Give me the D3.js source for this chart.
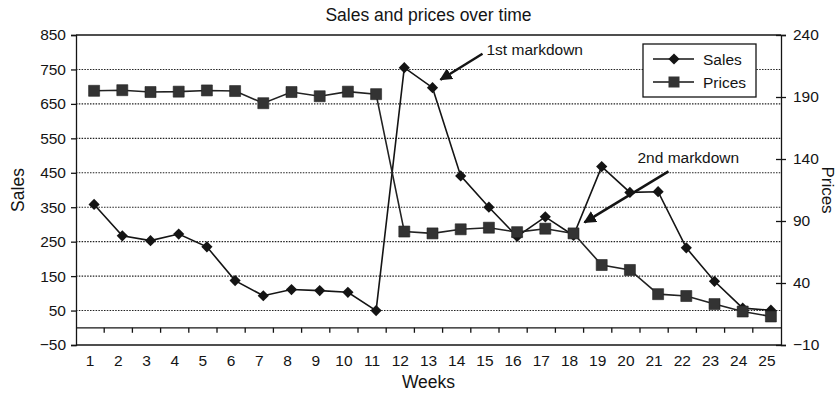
<!DOCTYPE html>
<html>
<head>
<meta charset="utf-8">
<script src="https://cdn.jsdelivr.net/npm/d3@7"></script>
<style>
  body { margin: 0; background: #fff; }
  svg { display: block; font-family: "Liberation Sans", Arial, Helvetica, sans-serif; }
</style>
</head>
<body>
<svg id="chart" width="840" height="393"></svg>
<script>
// Weekly sales (units, left axis) and prices (right axis)
const weeks = [1, 2, 3, 4, 5, 6, 7, 8, 9, 10, 11, 12, 13, 14, 15, 16, 17, 18, 19, 20, 21, 22, 23, 24, 25];
const sales = [358, 267, 253, 272, 235, 137, 93, 111, 108, 103, 50, 755, 697, 441, 350, 265, 322, 268, 468, 393, 395, 232, 135, 57, 51];
const prices = [195, 195.5, 194, 194.3, 195.3, 194.8, 185, 194, 190.6, 194.3, 192.3, 81.5, 80, 83.3, 84.6, 81, 83.8, 80, 54.5, 50.5, 31, 29.5, 23, 17, 13];
const salesTicks = [-50, 50, 150, 250, 350, 450, 550, 650, 750, 850];
const priceTicks = [-10, 40, 90, 140, 190, 240];
const annotations = [
  { text: "1st markdown", week: 13, series: "sales" },
  { text: "2nd markdown", week: 18, series: "prices" }
];

const svg = d3.select("#chart");
const plotLeft = 76, plotRight = 781, plotTop = 35, plotBottom = 345;
const ink = "#141414";

const x = d3.scaleBand().domain(weeks).range([plotLeft, plotRight]);
const ySales = d3.scaleLinear().domain([-50, 850]).range([plotBottom, plotTop]);
const yPrice = d3.scaleLinear().domain([-10, 240]).range([plotBottom, plotTop]);
const markX = d => x(d) + x.bandwidth() / 2 + 4;

// Dotted horizontal gridlines
svg.append("g")
  .selectAll("line")
  .data(salesTicks.filter(t => t > -50 && t < 850))
  .join("line")
  .attr("x1", plotLeft).attr("x2", plotRight)
  .attr("y1", d => ySales(d)).attr("y2", d => ySales(d))
  .attr("stroke", "#222").attr("stroke-width", 1.1)
  .attr("stroke-dasharray", "1.5,1.3");

// Frame: top and bottom edges
svg.append("line").attr("x1", plotLeft).attr("x2", plotRight).attr("y1", plotTop).attr("y2", plotTop)
  .attr("stroke", ink).attr("stroke-width", 1.3);
svg.append("line").attr("x1", plotLeft).attr("x2", plotRight).attr("y1", plotBottom).attr("y2", plotBottom)
  .attr("stroke", ink).attr("stroke-width", 1.3);

// Category axis sitting on the zero line, ticks between weeks
const zeroY = ySales(0);
svg.append("line").attr("x1", plotLeft).attr("x2", plotRight).attr("y1", zeroY).attr("y2", zeroY)
  .attr("stroke", ink).attr("stroke-width", 1.3);
svg.append("g")
  .selectAll("line")
  .data(weeks.slice(1))
  .join("line")
  .attr("x1", d => x(d)).attr("x2", d => x(d))
  .attr("y1", zeroY).attr("y2", zeroY + 5)
  .attr("stroke", ink).attr("stroke-width", 1.3);

const styleText = g => g.selectAll("text").attr("font-size", 15.5).attr("fill", ink)
  .attr("font-family", "Liberation Sans, Arial, sans-serif");

// Week labels below the frame
svg.append("g")
  .attr("transform", `translate(0,${plotBottom})`)
  .call(d3.axisBottom(x).tickSize(0).tickPadding(10))
  .call(g => g.select(".domain").remove())
  .call(styleText);

// Left axis (Sales)
svg.append("g")
  .attr("transform", `translate(${plotLeft},0)`)
  .call(d3.axisLeft(ySales).tickValues(salesTicks).tickSize(5).tickPadding(5)
    .tickFormat(d => d < 0 ? "\u2212" + Math.abs(d) : d))
  .call(g => g.select(".domain").attr("stroke", ink).attr("stroke-width", 1.3))
  .call(g => g.selectAll(".tick line").attr("stroke", ink).attr("stroke-width", 1.3))
  .call(styleText);

// Right axis (Prices), ticks cross the axis line
svg.append("g")
  .attr("transform", `translate(${plotRight},0)`)
  .call(d3.axisRight(yPrice).tickValues(priceTicks).tickSize(5).tickPadding(7)
    .tickFormat(d => d < 0 ? "\u2212" + Math.abs(d) : d))
  .call(g => g.select(".domain").attr("stroke", ink).attr("stroke-width", 1.3))
  .call(g => g.selectAll(".tick line").attr("x1", -5).attr("stroke", ink).attr("stroke-width", 1.3))
  .call(styleText);

// Titles
svg.append("text").attr("x", (plotLeft + plotRight) / 2).attr("y", 21)
  .attr("text-anchor", "middle").attr("font-size", 17.5).attr("fill", ink)
  .text("Sales and prices over time");
svg.append("text").attr("x", (plotLeft + plotRight) / 2).attr("y", 388)
  .attr("text-anchor", "middle").attr("font-size", 17.5).attr("fill", ink)
  .text("Weeks");
svg.append("text").attr("transform", `translate(24,${(plotTop + plotBottom) / 2}) rotate(-90)`)
  .attr("text-anchor", "middle").attr("font-size", 17.5).attr("fill", ink)
  .text("Sales");
svg.append("text").attr("transform", `translate(822,${(plotTop + plotBottom) / 2}) rotate(90)`)
  .attr("text-anchor", "middle").attr("font-size", 17).attr("fill", ink)
  .text("Prices");

// Series lines and markers
const diamond = d3.symbol().type(d3.symbolDiamond2).size(80);
const square = d3.symbol().type(d3.symbolSquare).size(121);

const salesLine = d3.line().x((d, i) => markX(weeks[i])).y(d => ySales(d));
const priceLine = d3.line().x((d, i) => markX(weeks[i])).y(d => yPrice(d));

svg.append("path").datum(sales).attr("d", salesLine)
  .attr("fill", "none").attr("stroke", ink).attr("stroke-width", 1.6);
svg.append("g").selectAll("path").data(sales).join("path")
  .attr("transform", (d, i) => `translate(${markX(weeks[i])},${ySales(d)})`)
  .attr("d", diamond).attr("fill", ink);

svg.append("path").datum(prices).attr("d", priceLine)
  .attr("fill", "none").attr("stroke", "#222").attr("stroke-width", 1.6);
svg.append("g").selectAll("path").data(prices).join("path")
  .attr("transform", (d, i) => `translate(${markX(weeks[i])},${yPrice(d)})`)
  .attr("d", square).attr("fill", "#333").attr("stroke", "#222").attr("stroke-width", 0.6);

// Annotation arrows
const defs = svg.append("defs");
defs.append("marker").attr("id", "arrow").attr("viewBox", "0 0 10 10")
  .attr("refX", 9).attr("refY", 5).attr("markerWidth", 5).attr("markerHeight", 5)
  .attr("markerUnits", "strokeWidth").attr("orient", "auto")
  .append("path").attr("d", "M0,0 L10,5 L0,10 Z").attr("fill", ink);

function anchorOf(a) {
  const i = weeks.indexOf(a.week);
  return a.series === "sales"
    ? [markX(a.week), ySales(sales[i])]
    : [markX(a.week), yPrice(prices[i])];
}

const a1 = anchorOf(annotations[0]);
svg.append("line").attr("x1", a1[0] + 50).attr("y1", a1[1] - 34)
  .attr("x2", a1[0] + 8).attr("y2", a1[1] - 8)
  .attr("stroke", ink).attr("stroke-width", 2.5).attr("marker-end", "url(#arrow)");
svg.append("text").attr("x", a1[0] + 54).attr("y", a1[1] - 33)
  .attr("font-size", 15.5).attr("fill", ink).text(annotations[0].text);

const a2 = anchorOf(annotations[1]);
svg.append("line").attr("x1", a2[0] + 95).attr("y1", a2[1] - 62)
  .attr("x2", a2[0] + 11).attr("y2", a2[1] - 11)
  .attr("stroke", ink).attr("stroke-width", 2.5).attr("marker-end", "url(#arrow)");
svg.append("text").attr("x", a2[0] + 64).attr("y", a2[1] - 70)
  .attr("font-size", 15.5).attr("fill", ink).text(annotations[1].text);

// Legend
const legend = svg.append("g").attr("transform", "translate(643,44)");
legend.append("rect").attr("width", 113).attr("height", 53)
  .attr("fill", "#fff").attr("stroke", ink).attr("stroke-width", 1.3);
const legendItems = [
  { name: "Sales", symbol: diamond, fill: ink },
  { name: "Prices", symbol: square, fill: "#333" }
];
legendItems.forEach((item, i) => {
  const row = legend.append("g").attr("transform", `translate(0,${15 + i * 23})`);
  row.append("line").attr("x1", 10).attr("x2", 51).attr("stroke", ink).attr("stroke-width", 1.6);
  row.append("path").attr("transform", "translate(31,0)").attr("d", item.symbol).attr("fill", item.fill);
  row.append("text").attr("x", 60).attr("y", 5.5).attr("font-size", 15.5).attr("fill", ink).text(item.name);
});
</script>
</body>
</html>
